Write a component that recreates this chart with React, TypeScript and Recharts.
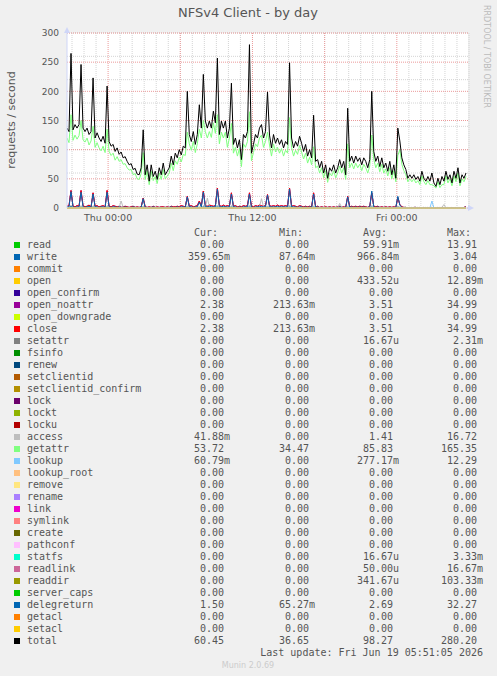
import { LineChart, Line, XAxis, YAxis, CartesianGrid } from 'recharts';

// samples every 10 minutes, starting Wed 20:35 (minute 0)
const total = [
  137, 131, 265, 134, 143, 137, 143, 246, 137, 131,
  137, 126, 131, 223, 120, 129, 120, 114, 123, 111,
  209, 114, 106, 109, 97, 103, 92, 96, 86, 88,
  80, 74, 76, 66, 68, 58, 57, 69, 134, 57,
  74, 46, 74, 54, 63, 49, 69, 57, 77, 57,
  63, 69, 89, 74, 94, 86, 100, 91, 106, 103,
  200, 126, 114, 131, 109, 126, 177, 137, 229, 149,
  137, 149, 137, 166, 146, 257, 126, 149, 137, 149,
  120, 137, 214, 109, 120, 103, 117, 83, 126, 120,
  131, 280, 94, 109, 126, 120, 137, 143, 120, 131,
  199, 125, 103, 126, 111, 120, 109, 117, 103, 114,
  109, 249, 120, 103, 114, 106, 123, 111, 97, 109,
  89, 100, 86, 159, 80, 83, 69, 80, 60, 74,
  51, 69, 63, 74, 60, 69, 83, 69, 80, 57,
  171, 80, 89, 77, 89, 80, 86, 74, 86, 80,
  69, 83, 200, 97, 80, 89, 71, 86, 69, 77,
  63, 80, 57, 74, 51, 137, 115, 86, 74, 66,
  51, 57, 51, 57, 49, 54, 46, 63, 51, 46,
  54, 46, 60, 43, 37, 51, 40, 54, 46, 63,
  49, 57, 43, 63, 51, 69, 43, 57, 51, 60,
];

const getattr = [
  120, 112, 160, 116, 125, 118, 124, 150, 117, 113,
  120, 108, 115, 140, 104, 112, 103, 98, 106, 95,
  135, 97, 90, 94, 82, 88, 80, 83, 75, 76,
  69, 65, 66, 57, 59, 50, 49, 59, 95, 49,
  64, 40, 63, 47, 54, 42, 60, 49, 66, 50,
  55, 60, 77, 64, 81, 75, 87, 79, 92, 90,
  130, 110, 99, 114, 95, 110, 135, 120, 150, 131,
  120, 131, 121, 146, 128, 160, 110, 130, 120, 130,
  104, 120, 145, 94, 104, 89, 102, 71, 110, 104,
  114, 165, 81, 95, 110, 105, 120, 125, 104, 114,
  130, 108, 89, 110, 96, 104, 94, 102, 89, 99,
  94, 155, 104, 89, 99, 92, 107, 96, 84, 94,
  77, 87, 74, 105, 69, 72, 60, 69, 52, 64,
  44, 60, 55, 64, 52, 60, 72, 60, 69, 49,
  110, 69, 77, 67, 77, 69, 75, 64, 75, 69,
  60, 72, 125, 84, 69, 77, 62, 75, 60, 67,
  55, 69, 50, 64, 45, 90, 100, 75, 64, 57,
  45, 50, 45, 50, 43, 47, 40, 55, 45, 40,
  47, 40, 40, 38, 34, 45, 35, 40, 40, 55,
  43, 50, 38, 55, 45, 60, 38, 50, 45, 54,
];

// close and open_noattr read identical
const close = [
  3, 4, 30, 3, 2, 4, 3, 30, 4, 2, 3, 5, 2, 26, 3, 4, 2, 3, 4, 2,
  30, 3, 2, 4, 3, 2, 3, 1, 2, 3, 2, 1, 2, 3, 1, 2, 1, 2, 17, 2,
  1, 2, 1, 3, 1, 2, 1, 2, 2, 1, 2, 1, 3, 2, 2, 3, 2, 4, 3, 2,
  20, 3, 4, 2, 3, 4, 12, 3, 29, 4, 3, 5, 4, 3, 4, 34, 4, 3, 5, 3,
  4, 3, 26, 3, 4, 2, 3, 2, 4, 3, 4, 26, 3, 2, 4, 3, 5, 4, 3, 4,
  23, 4, 3, 4, 3, 5, 3, 4, 3, 4, 3, 34, 3, 4, 3, 2, 4, 3, 2, 3,
  2, 3, 2, 26, 2, 3, 1, 2, 1, 2, 1, 2, 1, 2, 1, 2, 3, 1, 2, 1,
  20, 2, 3, 2, 3, 2, 3, 2, 3, 2, 1, 3, 26, 3, 2, 3, 1, 2, 1, 2,
  1, 2, 1, 2, 1, 18, 6, 2, 1, 1, 0, 1, 0, 1, 1, 0, 1, 0, 1, 0,
  1, 0, 1, 0, 0, 1, 0, 1, 0, 1, 0, 0, 1, 0, 1, 0, 1, 0, 1, 2,
];

const delegreturn = [
  2, 2, 28, 2, 1, 2, 2, 27, 2, 1, 2, 3, 1, 24, 2, 2, 1, 2, 2, 1,
  27, 2, 1, 2, 2, 1, 2, 1, 1, 2, 1, 1, 1, 2, 1, 1, 1, 1, 16, 1,
  1, 1, 1, 2, 1, 1, 1, 1, 1, 1, 1, 1, 2, 1, 1, 2, 1, 2, 2, 1,
  19, 2, 2, 1, 2, 2, 10, 2, 27, 2, 2, 3, 2, 2, 2, 32, 2, 2, 3, 2,
  2, 2, 24, 2, 2, 1, 2, 1, 2, 2, 2, 24, 2, 1, 2, 2, 3, 2, 2, 2,
  22, 2, 2, 2, 2, 3, 2, 2, 2, 2, 2, 32, 2, 2, 2, 1, 2, 2, 1, 2,
  1, 2, 1, 24, 1, 2, 1, 1, 1, 1, 1, 1, 1, 1, 1, 1, 2, 1, 1, 1,
  19, 1, 2, 1, 2, 1, 2, 1, 2, 1, 1, 2, 29, 2, 1, 2, 1, 1, 1, 1,
  1, 1, 1, 1, 1, 20, 5, 1, 1, 1, 0, 1, 0, 1, 1, 0, 1, 0, 1, 0,
  1, 0, 1, 0, 0, 1, 0, 1, 0, 1, 0, 0, 1, 0, 1, 0, 1, 0, 1, 1.5,
];

const write = [
  1, 1, 3, 1, 1, 1, 1, 2, 1, 1, 1, 1, 1, 2, 1, 1, 1, 1, 1, 1,
  2, 1, 1, 1, 1, 1, 1, 1, 1, 1, 1, 0.5, 1, 1, 1, 0.5, 1, 1, 2, 1,
  1, 0.5, 1, 1, 0.5, 1, 1, 1, 0.5, 1, 1, 1, 1, 1, 1, 1, 1, 1, 1, 1,
  2, 1, 1, 1, 1, 1, 1, 1, 3, 1, 1, 1, 1, 1, 1, 3, 1, 1, 1, 1,
  1, 1, 2, 1, 1, 1, 1, 1, 1, 1, 1, 3, 1, 1, 1, 1, 1, 1, 1, 1,
  2, 1, 1, 1, 1, 1, 1, 1, 1, 1, 1, 3, 1, 1, 1, 1, 1, 1, 1, 1,
  1, 1, 1, 2, 1, 1, 0.5, 1, 1, 0.5, 1, 1, 1, 0.5, 1, 1, 1, 1, 1, 0.5,
  2, 1, 1, 1, 1, 1, 1, 1, 1, 1, 1, 1, 2, 1, 1, 1, 1, 1, 1, 1,
  1, 1, 1, 1, 1, 2, 1, 1, 0.5, 1, 0.5, 0.5, 1, 0.5, 0.5, 1, 0.5, 0.5, 0.5, 1,
  0.5, 0.5, 1, 0.5, 0.5, 0.5, 1, 0.5, 0.5, 0.5, 1, 0.5, 0.5, 0.5, 0.5, 1, 0.5, 0.5, 0.5, 0.4,
];

const access = [
  1, 1, 5, 1, 0, 1, 1, 4, 1, 0, 1, 1, 0, 4, 1, 1, 0, 1, 1, 0,
  4, 1, 0, 1, 0, 1, 1, 12, 1, 0, 0, 1, 0, 0, 1, 0, 0, 1, 3, 0,
  0, 1, 0, 0, 1, 0, 0, 1, 0, 0, 1, 0, 0, 1, 0, 1, 0, 1, 1, 0,
  3, 1, 1, 0, 1, 1, 2, 1, 4, 1, 17, 2, 1, 1, 1, 5, 1, 1, 1, 0,
  1, 1, 4, 1, 1, 0, 1, 0, 1, 1, 1, 5, 1, 0, 1, 1, 2, 16, 2, 1,
  3, 1, 1, 1, 0, 1, 1, 1, 0, 1, 1, 5, 1, 1, 0, 1, 1, 1, 0, 1,
  0, 1, 0, 3, 0, 1, 0, 0, 1, 0, 0, 1, 0, 0, 1, 0, 8, 1, 0, 0,
  3, 0, 1, 0, 1, 0, 1, 0, 1, 0, 0, 1, 4, 1, 0, 1, 0, 0, 1, 0,
  0, 1, 0, 0, 1, 2, 1, 0, 0, 1, 0, 0, 1, 0, 0, 1, 0, 0, 1, 0,
  0, 1, 0, 0, 1, 0, 0, 1, 6, 0, 0, 1, 0, 0, 1, 0, 0, 1, 0, 0,
];

const lookup = [
  0, 0, 1, 0, 0, 0, 0, 1, 0, 0, 0, 0, 0, 1, 0, 0, 0, 0, 0, 0,
  1, 0, 0, 0, 0, 0, 0, 0, 0, 0, 0, 0, 0, 0, 0, 0, 0, 0, 1, 0,
  0, 0, 0, 0, 0, 0, 0, 0, 0, 0, 0, 0, 0, 0, 0, 0, 0, 0, 0, 0,
  1, 0, 0, 0, 0, 0, 0, 0, 1, 0, 0, 0, 0, 0, 0, 1, 0, 0, 0, 0,
  0, 0, 1, 0, 0, 0, 0, 0, 0, 0, 0, 1, 0, 0, 0, 0, 0, 0, 0, 0,
  1, 0, 0, 0, 0, 0, 0, 0, 0, 0, 0, 1, 0, 0, 0, 0, 0, 0, 0, 0,
  0, 0, 0, 1, 0, 0, 0, 0, 0, 0, 0, 0, 0, 0, 0, 0, 0, 0, 0, 0,
  1, 0, 0, 0, 0, 0, 0, 0, 0, 0, 0, 0, 1, 0, 0, 0, 0, 0, 0, 0,
  0, 0, 0, 0, 0, 1, 0, 0, 0, 0, 0, 0, 0, 0, 0, 0, 0, 0, 0, 0,
  0, 0, 12, 0, 0, 0, 0, 0, 0, 0, 0, 0, 0, 0, 0, 0, 0, 0, 0, 0,
];

// every other series reads 0.00 all day
const flat = total.map(() => 0);

const seriesNames = [
  'read', 'write', 'commit', 'open', 'open_confirm', 'open_noattr', 'open_downgrade',
  'close', 'setattr', 'fsinfo', 'renew', 'setclientid', 'setclientid_confirm', 'lock',
  'lockt', 'locku', 'access', 'getattr', 'lookup', 'lookup_root', 'remove', 'rename',
  'link', 'symlink', 'create', 'pathconf', 'statfs', 'readlink', 'readdir',
  'server_caps', 'delegreturn', 'getacl', 'setacl', 'total',
];
const seriesColors = [
  '#00CC00', '#0066B3', '#FF8000', '#FFCC00', '#330099', '#990099', '#CCFF00',
  '#FF0000', '#808080', '#008F00', '#00487D', '#B35A00', '#B38F00', '#6B006B',
  '#8FB300', '#B30000', '#BEBEBE', '#80FF80', '#80C9FF', '#FFC080', '#FFE680', '#AA80FF',
  '#EE00CC', '#FF8080', '#666600', '#FFBFFF', '#00FFCC', '#CC6699', '#999900',
  '#00CC00', '#0066B3', '#FF8000', '#FFCC00', '#000000',
];
const curValues = [
  '0.00', '359.65m', '0.00', '0.00', '0.00', '2.38', '0.00', '2.38', '0.00', '0.00',
  '0.00', '0.00', '0.00', '0.00', '0.00', '0.00', '41.88m', '53.72', '60.79m', '0.00',
  '0.00', '0.00', '0.00', '0.00', '0.00', '0.00', '0.00', '0.00', '0.00', '0.00',
  '1.50', '0.00', '0.00', '60.45',
];
const minValues = [
  '0.00', '87.64m', '0.00', '0.00', '0.00', '213.63m', '0.00', '213.63m', '0.00', '0.00',
  '0.00', '0.00', '0.00', '0.00', '0.00', '0.00', '0.00', '34.47', '0.00', '0.00',
  '0.00', '0.00', '0.00', '0.00', '0.00', '0.00', '0.00', '0.00', '0.00', '0.00',
  '65.27m', '0.00', '0.00', '36.65',
];
const avgValues = [
  '59.91m', '966.84m', '0.00', '433.52u', '0.00', '3.51', '0.00', '3.51', '16.67u', '0.00',
  '0.00', '0.00', '0.00', '0.00', '0.00', '0.00', '1.41', '85.83', '277.17m', '0.00',
  '0.00', '0.00', '0.00', '0.00', '0.00', '0.00', '16.67u', '50.00u', '341.67u', '0.00',
  '2.69', '0.00', '0.00', '98.27',
];
const maxValues = [
  '13.91', '3.04', '0.00', '12.89m', '0.00', '34.99', '0.00', '34.99', '2.31m', '0.00',
  '0.00', '0.00', '0.00', '0.00', '0.00', '0.00', '16.72', '165.35', '12.29', '0.00',
  '0.00', '0.00', '0.00', '0.00', '0.00', '0.00', '3.33m', '16.67m', '103.33m', '0.00',
  '32.27', '0.00', '0.00', '280.20',
];

const xTickMinutes = [205, 925, 1645];
const xTickLabels = ['Thu 00:00', 'Thu 12:00', 'Fri 00:00'];
const yTicks = [0, 50, 100, 150, 200, 250, 300];

const valuesByName: Record<string, number[]> = {
  write,
  open_noattr: close,
  close,
  access,
  getattr,
  lookup,
  delegreturn,
  total,
};

const data = total.map((_, i) => {
  const row: Record<string, number> = { t: i * 10 };
  seriesNames.forEach((n) => {
    row[n] = (valuesByName[n] || flat)[i];
  });
  return row;
});

// grid: minor every hour / 10 req, major every 6 hours / 50 req
const minorX = Array.from({ length: 34 }, (_, k) => 25 + k * 60);
const majorX = Array.from({ length: 5 }, (_, k) => 205 + k * 360);
const minorY = Array.from({ length: 31 }, (_, k) => k * 10);
const majorY = yTicks;

const FONT = '#555';
const mono = 'DejaVu Sans Mono';
const colNum = [224, 309, 393, 477];
const colHead = [194, 279, 363, 447];
const headers = ['Cur:', 'Min:', 'Avg:', 'Max:'];

function splitVal(v: string) {
  const last = v[v.length - 1];
  if (last === 'm' || last === 'u') return [v.slice(0, -1), last];
  return [v, ''];
}

export default function App() {
  const columns = [curValues, minValues, avgValues, maxValues];
  return (
    <div
      style={{
        position: 'absolute',
        left: 0,
        top: 0,
        width: 497,
        height: 676,
        background: '#f0f0f0',
        overflow: 'hidden',
      }}
    >
      <div style={{ position: 'absolute', left: 0, top: 0 }}>
        <LineChart
          width={497}
          height={230}
          data={data}
          margin={{ top: 33, right: 29, bottom: 0, left: 7 }}
        >
          <CartesianGrid
            fill="#ffffff"
            stroke="#d4d4d4"
            strokeDasharray="1 1"
            horizontalValues={minorY}
            verticalValues={minorX}
          />
          <CartesianGrid
            fill="none"
            stroke="#eb9a9a"
            strokeDasharray="1 1"
            horizontalValues={majorY}
            verticalValues={majorX}
          />
          <XAxis
            type="number"
            dataKey="t"
            domain={[0, 2000]}
            ticks={xTickMinutes}
            tickFormatter={(v: number) => xTickLabels[xTickMinutes.indexOf(v)]}
            allowDataOverflow
            height={22}
            tickSize={4}
            tickLine={false}
            axisLine={{ stroke: '#CFD6F8' }}
            tick={{ fill: FONT, fontSize: 9.5, fontFamily: 'DejaVu Sans' }}
          />
          <YAxis
            type="number"
            domain={[0, 300]}
            ticks={yTicks}
            width={60}
            tickLine={false}
            axisLine={{ stroke: '#CFD6F8' }}
            tick={{ fill: FONT, fontSize: 9, fontFamily: 'DejaVu Sans' }}
          />
          {seriesNames.map((n, k) => (
            <Line
              key={n}
              type="linear"
              dataKey={n}
              stroke={seriesColors[k]}
              strokeWidth={1}
              dot={false}
              activeDot={false}
              isAnimationActive={false}
            />
          ))}
        </LineChart>
      </div>
      <svg
        width={497}
        height={676}
        style={{ position: 'absolute', left: 0, top: 0, pointerEvents: 'none' }}
      >
        <text
          x={248}
          y={17}
          textAnchor="middle"
          fontFamily="DejaVu Sans"
          fontSize={13}
          fill={FONT}
        >
          NFSv4 Client - by day
        </text>
        <text
          transform="translate(484,5) rotate(90)"
          fontFamily="DejaVu Sans"
          fontSize={8}
          fill="#bbbbbb"
        >
          RRDTOOL / TOBI OETIKER
        </text>
        <text
          transform="translate(15,120) rotate(-90)"
          textAnchor="middle"
          fontFamily="DejaVu Sans"
          fontSize={11}
          fill={FONT}
        >
          requests / second
        </text>
        <polygon points="64,33 70,33 67,27" fill="#CFD6F8" />
        <polygon points="468,205 468,211 474,208" fill="#CFD6F8" />

        {headers.map((h, c) => (
          <text key={h} x={colHead[c]} y={236} fontFamily={mono} fontSize={10} fill={FONT}>
            {h}
          </text>
        ))}
        {seriesNames.map((n, k) => {
          const y = 248 + k * 12;
          return (
            <g key={n}>
              <rect x={14} y={y - 6} width={6} height={6} fill={seriesColors[k]} />
              <text x={27} y={y} fontFamily={mono} fontSize={10} fill={FONT}>
                {n}
              </text>
              {columns.map((col, c) => {
                const [num, suf] = splitVal(col[k]);
                return (
                  <g key={c}>
                    <text
                      x={colNum[c]}
                      y={y}
                      textAnchor="end"
                      fontFamily={mono}
                      fontSize={10}
                      fill={FONT}
                    >
                      {num}
                    </text>
                    {suf && (
                      <text x={colNum[c]} y={y} fontFamily={mono} fontSize={10} fill={FONT}>
                        {suf}
                      </text>
                    )}
                  </g>
                );
              })}
            </g>
          );
        })}
        <text x={483} y={656} textAnchor="end" fontFamily={mono} fontSize={10} fill={FONT}>
          Last update: Fri Jun 19 05:51:05 2026
        </text>
        <text
          x={248}
          y={668}
          textAnchor="middle"
          fontFamily="DejaVu Sans"
          fontSize={8}
          fill="#cccccc"
        >
          Munin 2.0.69
        </text>
      </svg>
    </div>
  );
}
